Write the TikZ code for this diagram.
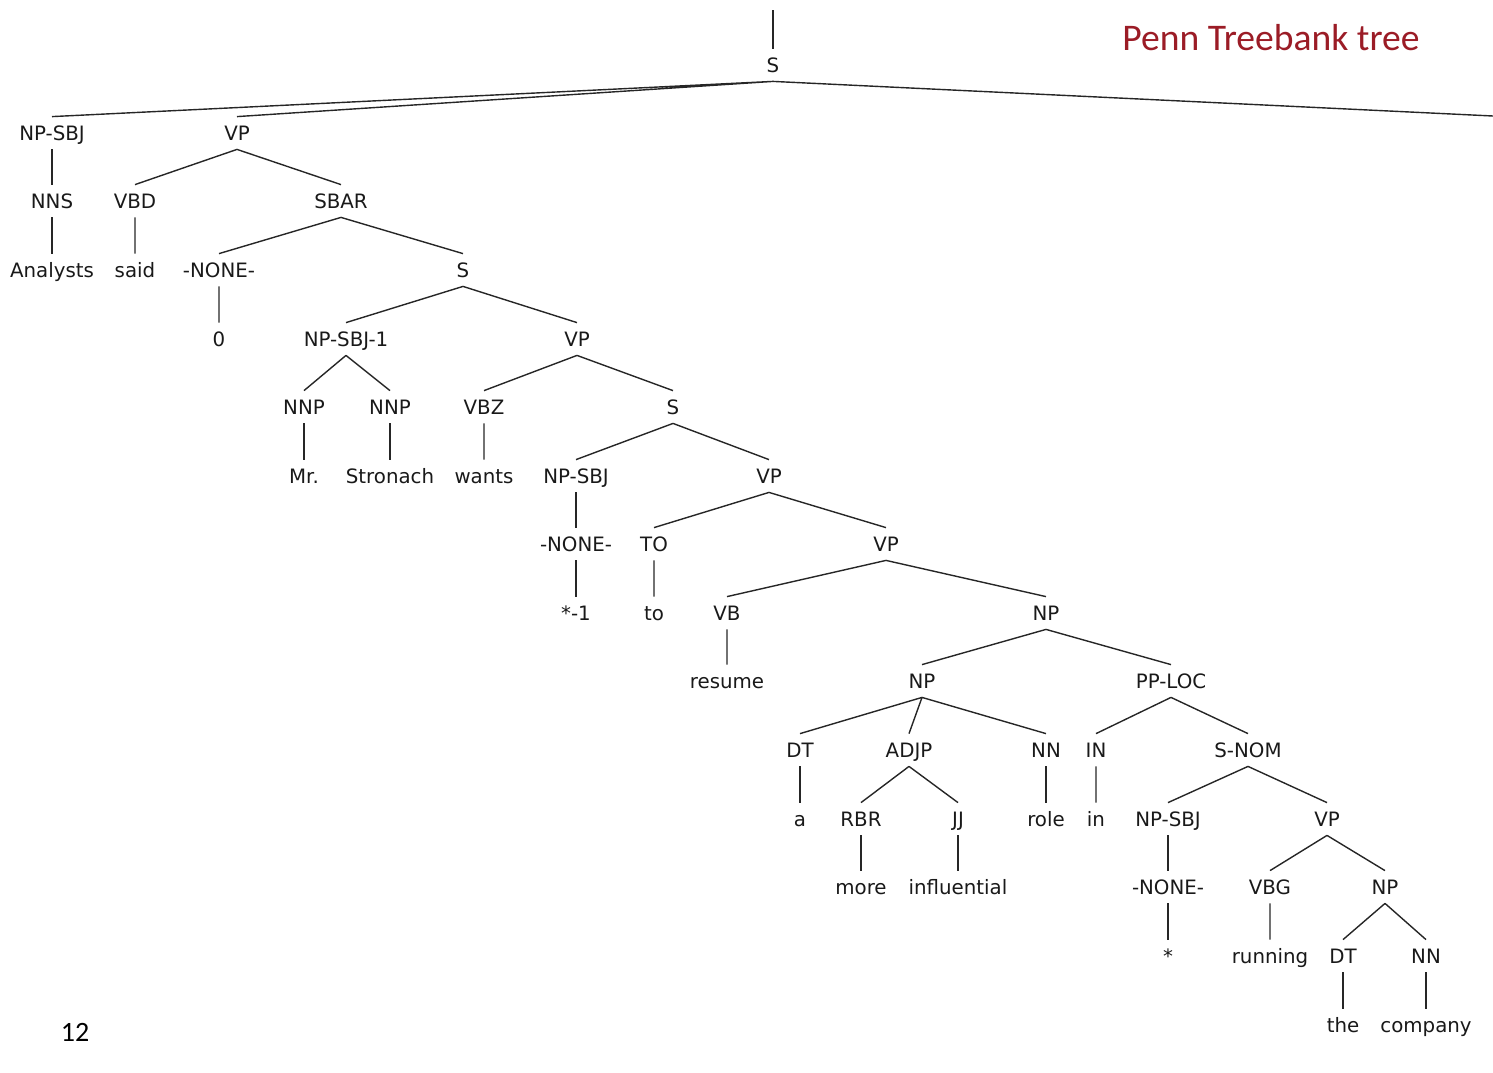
\documentclass[tikz,border=0pt]{standalone}
\usepackage{fontspec}
\setmainfont{DejaVu Sans}
\newfontfamily\slidefont{Carlito}
\usepackage{xcolor}
\usepackage{tikz}
\definecolor{pennred}{RGB}{155,28,38}
\tikzset{
  tag/.style={text=black!90, font=\fontsize{9.9}{12}\selectfont, inner xsep=0pt, inner ysep=4.5pt, text height=7pt, text depth=0pt},
  branch/.style={line width=0.7pt, draw=black!85}
}

\begin{document}
\begin{tikzpicture}[x=0.5pt, y=-0.5pt]
        \useasboundingbox (0,0) rectangle (1493,1072);

        % Slide title and page number
        \node[text=pennred, font=\slidefont\fontsize{18.8}{21}\selectfont] (title) at (1271,38) {Penn Treebank tree};
        \node[font=\slidefont\fontsize{14}{16}\selectfont] (page) at (75,1032) {12};

        % Root and top level
        \coordinate (top) at (773,10);
        \coordinate (offright) at (1493,116);
        \node[tag] (s0) at (773,65) {S};
        \node[tag] (npsbj) at (52,133) {NP-SBJ};
        \node[tag] (vp1) at (237,133) {VP};

        % Analysts said
        \node[tag] (nns) at (52,201) {NNS};
        \node[tag] (vbd) at (135,201) {VBD};
        \node[tag] (sbar) at (341,201) {SBAR};
        \node[tag] (analysts) at (52,270) {Analysts};
        \node[tag] (said) at (135,270) {said};
        \node[tag] (none1) at (219,270) {-NONE-};
        \node[tag] (s1) at (463,270) {S};
        \node[tag] (zero) at (219,339) {0};
        \node[tag] (npsbj1) at (346,339) {NP-SBJ-1};
        \node[tag] (vp2) at (577,339) {VP};

        % Mr. Stronach wants
        \node[tag] (nnp1) at (304,407) {NNP};
        \node[tag] (nnp2) at (390,407) {NNP};
        \node[tag] (vbz) at (484,407) {VBZ};
        \node[tag] (s2) at (673,407) {S};
        \node[tag] (mr) at (304,476) {Mr.};
        \node[tag] (stronach) at (390,476) {Stronach};
        \node[tag] (wants) at (484,476) {wants};
        \node[tag] (npsbj2) at (576,476) {NP-SBJ};
        \node[tag] (vp3) at (769,476) {VP};

        % to resume
        \node[tag] (none2) at (576,544) {-NONE-};
        \node[tag] (to1) at (654,544) {TO};
        \node[tag] (vp4) at (886,544) {VP};
        \node[tag] (trace1) at (576,613) {*-1};
        \node[tag] (to2) at (654,613) {to};
        \node[tag] (vb) at (727,613) {VB};
        \node[tag] (np1) at (1046,613) {NP};
        \node[tag] (resume) at (727,681) {resume};
        \node[tag] (np2) at (922,681) {NP};
        \node[tag] (pploc) at (1171,681) {PP-LOC};

        % a more influential role
        \node[tag] (dt1) at (800,750) {DT};
        \node[tag] (adjp) at (909,750) {ADJP};
        \node[tag] (nn1) at (1046,750) {NN};
        \node[tag] (in1) at (1096,750) {IN};
        \node[tag] (snom) at (1248,750) {S-NOM};
        \node[tag] (a) at (800,819) {a};
        \node[tag] (rbr) at (861,819) {RBR};
        \node[tag] (jj) at (958,819) {JJ};
        \node[tag] (role) at (1046,819) {role};
        \node[tag] (in2) at (1096,819) {in};
        \node[tag] (npsbj3) at (1168,819) {NP-SBJ};
        \node[tag] (vp5) at (1327,819) {VP};
        \node[tag] (more) at (861,887) {more};
        \node[tag] (influential) at (958,887) {influential};

        % running the company
        \node[tag] (none3) at (1168,887) {-NONE-};
        \node[tag] (vbg) at (1270,887) {VBG};
        \node[tag] (np3) at (1385,887) {NP};
        \node[tag] (trace2) at (1168,956) {*};
        \node[tag] (running) at (1270,956) {running};
        \node[tag] (dt2) at (1343,956) {DT};
        \node[tag] (nn2) at (1426,956) {NN};
        \node[tag] (the) at (1343,1025) {the};
        \node[tag] (company) at (1426,1025) {company};

        % Branches
        \draw[branch] (top) -- (s0.north);
        \draw[branch] (s0.south) -- (npsbj.north) (s0.south) -- (vp1.north) (s0.south) -- (offright);
        \draw[branch] (npsbj.south) -- (nns.north) (nns.south) -- (analysts.north);
        \draw[branch] (vp1.south) -- (vbd.north) (vp1.south) -- (sbar.north) (vbd.south) -- (said.north);
        \draw[branch] (sbar.south) -- (none1.north) (sbar.south) -- (s1.north) (none1.south) -- (zero.north);
        \draw[branch] (s1.south) -- (npsbj1.north) (s1.south) -- (vp2.north);
        \draw[branch] (npsbj1.south) -- (nnp1.north) (npsbj1.south) -- (nnp2.north);
        \draw[branch] (nnp1.south) -- (mr.north) (nnp2.south) -- (stronach.north);
        \draw[branch] (vp2.south) -- (vbz.north) (vp2.south) -- (s2.north) (vbz.south) -- (wants.north);
        \draw[branch] (s2.south) -- (npsbj2.north) (s2.south) -- (vp3.north);
        \draw[branch] (npsbj2.south) -- (none2.north) (none2.south) -- (trace1.north);
        \draw[branch] (vp3.south) -- (to1.north) (vp3.south) -- (vp4.north) (to1.south) -- (to2.north);
        \draw[branch] (vp4.south) -- (vb.north) (vp4.south) -- (np1.north) (vb.south) -- (resume.north);
        \draw[branch] (np1.south) -- (np2.north) (np1.south) -- (pploc.north);
        \draw[branch] (np2.south) -- (dt1.north) (np2.south) -- (adjp.north) (np2.south) -- (nn1.north);
        \draw[branch] (dt1.south) -- (a.north) (nn1.south) -- (role.north);
        \draw[branch] (adjp.south) -- (rbr.north) (adjp.south) -- (jj.north);
        \draw[branch] (rbr.south) -- (more.north) (jj.south) -- (influential.north);
        \draw[branch] (pploc.south) -- (in1.north) (pploc.south) -- (snom.north) (in1.south) -- (in2.north);
        \draw[branch] (snom.south) -- (npsbj3.north) (snom.south) -- (vp5.north);
        \draw[branch] (npsbj3.south) -- (none3.north) (none3.south) -- (trace2.north);
        \draw[branch] (vp5.south) -- (vbg.north) (vp5.south) -- (np3.north) (vbg.south) -- (running.north);
        \draw[branch] (np3.south) -- (dt2.north) (np3.south) -- (nn2.north);
        \draw[branch] (dt2.south) -- (the.north) (nn2.south) -- (company.north);
    \end{tikzpicture}
\end{document}
